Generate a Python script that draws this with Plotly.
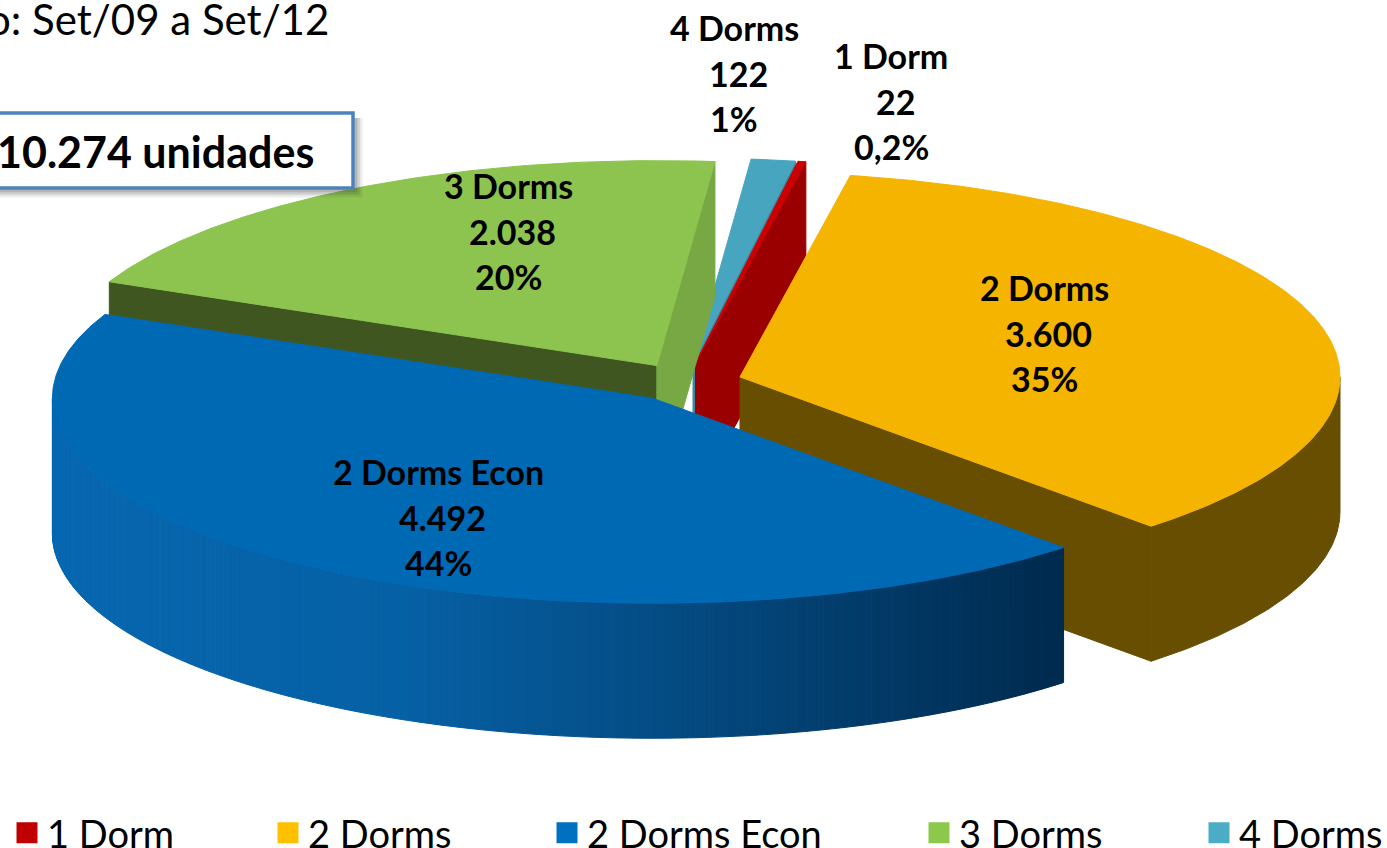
import math
import plotly.graph_objects as go

# ---- data ----
CATEGORIES = ["1 Dorm", "2 Dorms", "2 Dorms Econ", "3 Dorms", "4 Dorms"]
VALUES = [22, 3600, 4492, 2038, 122]
VALUE_LABELS = ["22", "3.600", "4.492", "2.038", "122"]
PCT_LABELS = ["0,2%", "35%", "44%", "20%", "1%"]

# ---- style ----
TOP = ["#cc0000", "#f5b400", "#0069b4", "#8cc44f", "#47a5bf"]
WALL = ["#9b0000", "#684e00", "#0069b4", "#3f5620", "#3a8aa0"]
END_WALL = ["#9b0000", "#684e00", "#0069b4", "#78a843", "#3a8aa0"]
LEGEND_COL = ["#c00000", "#ffc000", "#0070c0", "#8cc84b", "#4bacc6"]
FONT = "Lato, Carlito, Calibri, sans-serif"

# ---- 3-D pie projection ----
CX, CY, RX, RY, DEPTH, EXPLODE, START = 685.4, 382.4, 600, 205, 135, 0.0948, 9.83
total = sum(VALUES)


def P(theta, ax, ay, r=1.0, z=0.0):
    t = math.radians(theta)
    return ax + RX * r * math.sin(t), ay - RY * r * math.cos(t) + z


def arc(a, b, ax, ay, z=0.0):
    n = max(2, int(abs(b - a) / 0.5))
    return [P(a + (b - a) * i / n, ax, ay, 1, z) for i in range(n + 1)]


slices = []
th = START
for i, v in enumerate(VALUES):
    sw = v / total * 360
    mid = th + sw / 2
    ax, ay = P(mid, CX, CY, EXPLODE)
    slices.append(dict(i=i, a=th, b=th + sw, ax=ax, ay=ay))
    th += sw

fig = go.Figure()


def poly(pts, color, name):
    xs = [p[0] for p in pts] + [pts[0][0]]
    ys = [p[1] for p in pts] + [pts[0][1]]
    fig.add_trace(go.Scatter(x=xs, y=ys, mode="lines", fill="toself", fillcolor=color,
                             line=dict(color=color, width=1), hoverinfo="skip",
                             name=name, showlegend=False))


def lerp(c1, c2, t):
    return "rgb(%d,%d,%d)" % tuple(round(a + (b - a) * t) for a, b in zip(c1, c2))


def grad(t):
    # blue outer wall: left (t=0) medium, right (t=1) near navy
    stops = [(0.0, (7, 103, 176)), (0.35, (6, 96, 164)), (0.65, (4, 72, 126)), (1.0, (0, 42, 78))]
    for (t0, c0), (t1, c1) in zip(stops, stops[1:]):
        if t <= t1:
            return lerp(c0, c1, (t - t0) / (t1 - t0))
    return lerp(stops[-1][1], stops[-1][1], 0)


# painter's order, far to near: 4 Dorms, 1 Dorm, 3 Dorms, 2 Dorms, 2 Dorms Econ
for idx in [4, 0, 3, 1, 2]:
    s = slices[idx]
    a, b, ax, ay = s["a"], s["b"], s["ax"], s["ay"]
    name = CATEGORIES[idx]
    # radial cut walls
    if math.sin(math.radians(a)) < 0:
        p = P(a, ax, ay)
        poly([(ax, ay), p, (p[0], p[1] + DEPTH), (ax, ay + DEPTH)], WALL[idx], name)
    if math.sin(math.radians(b)) > 0:
        p = P(b, ax, ay)
        poly([(ax, ay), p, (p[0], p[1] + DEPTH), (ax, ay + DEPTH)], END_WALL[idx], name)
    # outer wall (front half only)
    lo, hi = max(a, 90), min(b, 270)
    if hi > lo:
        if idx == 2:
            n = 240
            xl = P(270, ax, ay)[0]
            xr = P(lo, ax, ay)[0]
            for k in range(n):
                t0 = lo + (hi - lo) * k / n
                t1 = lo + (hi - lo) * (k + 1) / n
                pts = [P(t0, ax, ay), P(t1, ax, ay), P(t1, ax, ay, 1, DEPTH), P(t0, ax, ay, 1, DEPTH)]
                xm = P((t0 + t1) / 2, ax, ay)[0]
                poly(pts, grad((xm - xl) / (xr - xl)), name)
        else:
            poly(arc(lo, hi, ax, ay) + arc(hi, lo, ax, ay, DEPTH), WALL[idx], name)
    # top face
    poly([(ax, ay)] + arc(a, b, ax, ay), TOP[idx], name)

# ---- legend: one small legend per item, so each sits where the original does ----
LEGEND_X = [7, 268, 547, 919, 1199]
layout_legends = {}
for i, c in enumerate(CATEGORIES):
    key = "legend" if i == 0 else f"legend{i + 1}"
    fig.add_trace(go.Scatter(x=[None], y=[None], mode="markers", name=c, legend=key,
                             marker=dict(symbol="square", size=16, color=LEGEND_COL[i],
                                         line=dict(color=LEGEND_COL[i], width=5)),
                             showlegend=True, hoverinfo="skip"))
    layout_legends[key] = dict(x=LEGEND_X[i] / 1387, y=1 - 833 / 848, xanchor="left", yanchor="middle",
                               bgcolor="rgba(0,0,0,0)", borderwidth=0,
                               font=dict(family=FONT, size=38, color="#000000"),
                               itemclick=False, itemdoubleclick=False)

# ---- data labels: three lines per slice ----
LABEL_X = [891, 1044, 438, 508, 734]
LABEL_Y = [55.5, 287.5, 471.5, 185.5, 27.5]
LINE_STEP = 45.5
annotations = []
for i, c in enumerate(CATEGORIES):
    for j, txt in enumerate([c, VALUE_LABELS[i], PCT_LABELS[i]]):
        annotations.append(dict(x=LABEL_X[i] + (4 if j == 1 else 0), y=LABEL_Y[i] + j * LINE_STEP, text=f"<b>{txt}</b>",
                                showarrow=False, xanchor="center", yanchor="middle",
                                font=dict(family=FONT, size=34, color="#000000")))
annotations.append(dict(x=316, y=151, text="<b>10.274 unidades</b>", showarrow=False, xanchor="right",
                        yanchor="middle", font=dict(family=FONT, size=43, color="#000000")))
annotations.append(dict(x=331, y=19, text="o: Set/09 a Set/12", showarrow=False, xanchor="right",
                        yanchor="middle", font=dict(family=FONT, size=42, color="#000000")))

# ---- call-out box with soft shadow ----
shapes = []
for k, op in enumerate([0.05, 0.07, 0.09, 0.11, 0.13]):
    g = 8 - k * 1.5
    shapes.append(dict(type="rect", x0=-20, x1=355 + g, y0=118, y1=188 + g + 2, line=dict(width=0),
                       fillcolor=f"rgba(60,60,60,{op})"))
shapes.append(dict(type="rect", x0=-20, x1=353, y0=113, y1=188, fillcolor="#ffffff",
                   line=dict(color="#4f81bd", width=3.5)))

fig.update_layout(
    width=1387, height=848, margin=dict(l=0, r=0, t=0, b=0, autoexpand=False),
    paper_bgcolor="#ffffff", plot_bgcolor="#ffffff",
    xaxis=dict(range=[0, 1387], visible=False, fixedrange=True),
    yaxis=dict(range=[848, 0], visible=False, fixedrange=True),
    annotations=annotations, shapes=shapes, hovermode=False,
    **layout_legends,
)
fig.write_html("out.html", config={"displayModeBar": False},
               post_script="document.body.style.margin='0';document.body.style.overflow='hidden';")
